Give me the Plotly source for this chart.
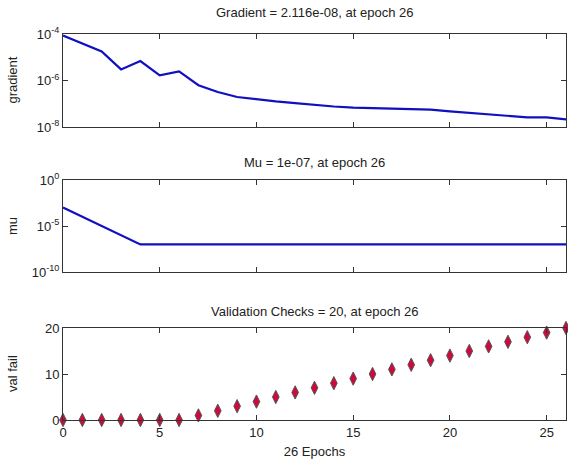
import plotly.graph_objects as go

epochs = list(range(27))
gradient = [8.5e-5, 3.9e-5, 1.78e-5, 3.0e-6, 6.9e-6, 1.66e-6, 2.45e-6, 6.3e-7, 3.2e-7,
            1.95e-7, 1.55e-7, 1.26e-7, 1.07e-7, 8.7e-8, 7.6e-8, 6.8e-8, 6.5e-8, 6.3e-8,
            6.0e-8, 5.6e-8, 4.7e-8, 4.1e-8, 3.5e-8, 3.1e-8, 2.6e-8, 2.57e-8, 2.116e-8]
mu = [1e-3, 1e-4, 1e-5, 1e-6] + [1e-7] * 23
val_fail = [0, 0, 0, 0, 0, 0, 0, 1, 2, 3, 4, 5, 6, 7, 8, 9, 10, 11, 12, 13, 14, 15, 16, 17, 18, 19, 20]

titles = ["Gradient = 2.116e-08, at epoch 26", "Mu = 1e-07, at epoch 26",
          "Validation Checks = 20, at epoch 26"]
ylabels = ["gradient", "mu", "val fail"]
xlabel = "26 Epochs"
grad_ticks = [-8, -6, -4]
mu_ticks = [-10, -5, 0]
x_ticks = [0, 5, 10, 15, 20, 25]
vf_ticks = [0, 10, 20]

FONT = "Liberation Sans, Arial, sans-serif"
LINE_C = "#1010c0"
AX_C = "#333333"

fig = go.Figure()
fig.add_trace(go.Scatter(x=epochs, y=gradient, mode="lines", line=dict(color=LINE_C, width=2.2),
                         xaxis="x", yaxis="y", showlegend=False))
fig.add_trace(go.Scatter(x=epochs, y=mu, mode="lines", line=dict(color=LINE_C, width=2.2),
                         xaxis="x2", yaxis="y2", showlegend=False))
fig.add_trace(go.Scatter(x=epochs, y=val_fail, mode="markers",
                         marker=dict(symbol="diamond-tall", size=9.5, color="#d0083c",
                                     line=dict(color="#555555", width=1)),
                         cliponaxis=False, xaxis="x3", yaxis="y3", showlegend=False))

H = 464
top_px, bot_px = 34, 420
span = bot_px - top_px
def dom(a, b):
    return [(bot_px - b) / span, (bot_px - a) / span]

doms = [dom(34, 127), dom(180, 272), dom(328, 420)]

axbase = dict(showline=True, linecolor=AX_C, linewidth=1, mirror="ticks", ticks="inside",
              ticklen=5, tickcolor=AX_C, showgrid=False, zeroline=False,
              tickfont=dict(family=FONT, size=13, color="#222"))

layout = dict(width=568, height=H, paper_bgcolor="white", plot_bgcolor="white",
              margin=dict(l=63, r=2, t=top_px, b=H - bot_px),
              font=dict(family=FONT, size=13, color="#222"))

for i, (xa, ya) in enumerate([("xaxis", "yaxis"), ("xaxis2", "yaxis2"), ("xaxis3", "yaxis3")]):
    anchor = "y" if i == 0 else f"y{i+1}"
    layout[xa] = dict(axbase, range=[0, 26], tickvals=x_ticks, anchor=anchor,
                      showticklabels=(i == 2), domain=[0, 1])
    if i == 2:
        layout[xa]["title"] = dict(text=xlabel, font=dict(family=FONT, size=13, color="#222"), standoff=8)
layout["yaxis"] = dict(axbase, type="log", range=[-8, -4], tickvals=[10 ** t for t in grad_ticks],
                       ticktext=[f"10<sup>{t}</sup>" for t in grad_ticks], anchor="x", domain=doms[0])
layout["yaxis2"] = dict(axbase, type="log", range=[-10, 0], tickvals=[10.0 ** t for t in mu_ticks],
                        ticktext=[f"10<sup>{t}</sup>" for t in mu_ticks], anchor="x2", domain=doms[1])
layout["yaxis3"] = dict(axbase, range=[0, 20], tickvals=vf_ticks, anchor="x3", domain=doms[2])

annotations = []
title_px = [12, 162, 311]
ylab_mid = [(34 + 127) / 2, (180 + 272) / 2, (328 + 420) / 2]
for t, ty, yl, ym in zip(titles, title_px, ylabels, ylab_mid):
    annotations.append(dict(text=t, xref="paper", yref="paper", x=0.5, y=(bot_px - ty) / span,
                            showarrow=False, xanchor="center", yanchor="middle",
                            font=dict(family=FONT, size=13, color="#222")))
    annotations.append(dict(text=yl, xref="paper", yref="paper", x=(12 - 63) / 503.5,
                            y=(bot_px - ym) / span, showarrow=False, textangle=-90,
                            xanchor="center", yanchor="middle",
                            font=dict(family=FONT, size=13, color="#222")))
layout["annotations"] = annotations

fig.update_layout(**layout)
fig.write_html("out.html", config={"displayModeBar": False},
               post_script="document.body.style.margin='0';document.body.style.padding='0';")
